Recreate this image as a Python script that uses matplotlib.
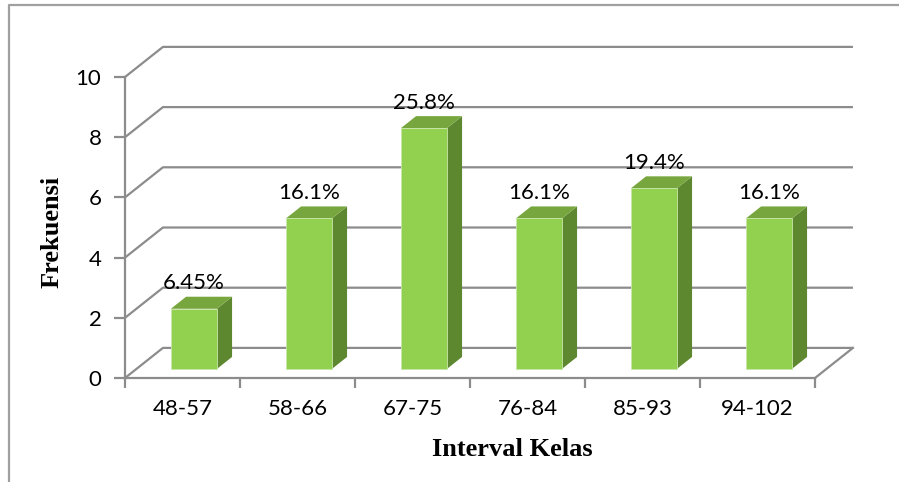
import matplotlib.pyplot as plt
from matplotlib.patches import Polygon
from matplotlib.lines import Line2D

# data
categories = ['48-57', '58-66', '67-75', '76-84', '85-93', '94-102']
freq = [2, 5, 8, 5, 6, 5]
pct_labels = ['6.45%', '16.1%', '25.8%', '16.1%', '19.4%', '16.1%']
yticks = [0, 2, 4, 6, 8, 10]

plt.rcParams['font.family'] = ['Lato', 'DejaVu Sans']

grid_c = '#8c8c8c'
front_c = '#92d050'
side_c = '#5e8830'
top_c = '#78a63e'

# pseudo 3d depth: full depth shifts (ddx categories, ddy values)
ddx, ddy = 0.33, 1.0

def shift(x, y, f):
    return x + ddx * f, y + ddy * f

W, H = 899, 482
fig = plt.figure(figsize=(W / 100, H / 100), dpi=100)
ax = fig.add_axes([125 / W, 104 / H, 690 / W, 301 / H])
ax.set_xlim(0, len(categories))
ax.set_ylim(0, 10)

# walls gridlines
for v in yticks:
    bx, by = shift(0, v, 1)
    ax.plot([0, bx, bx + len(categories)], [v, by, by], color=grid_c, lw=1.6,
            clip_on=False, zorder=1, solid_capstyle='butt')
# floor right edge
rx, ry = shift(len(categories), 0, 1)
ax.plot([len(categories), rx], [0, ry], color=grid_c, lw=1.6, clip_on=False, zorder=1)

# bars
f0, f1 = 0.3, 0.7
for i, (v, lab) in enumerate(zip(freq, pct_labels)):
    xl, xr = i + 0.3, i + 0.7
    x0l, y0 = shift(xl, 0, f0)
    x0r, _ = shift(xr, 0, f0)
    y0t = v + ddy * f0
    x1l, _ = shift(xl, 0, f1)
    x1r, _ = shift(xr, 0, f1)
    y1t = v + ddy * f1
    y1b = ddy * f1
    side = Polygon([(x0r, y0), (x1r, y1b), (x1r, y1t), (x0r, y0t)],
                   closed=True, fc=side_c, ec='none', clip_on=False, zorder=3)
    top = Polygon([(x0l, y0t), (x0r, y0t), (x1r, y1t), (x1l, y1t)],
                  closed=True, fc=top_c, ec='none', clip_on=False, zorder=3)
    front = Polygon([(x0l, y0), (x0r, y0), (x0r, y0t), (x0l, y0t)],
                    closed=True, fc=front_c, ec='#c8e6a8', lw=0.6, clip_on=False, zorder=4)
    for p in (side, top, front):
        ax.add_patch(p)
    ax.text((x0l + x0r) / 2, y1t + 0.45, lab, ha='center', va='center',
            fontsize=16, zorder=5)

for s in ['top', 'right']:
    ax.spines[s].set_visible(False)
for s in ['left', 'bottom']:
    ax.spines[s].set_color(grid_c)
    ax.spines[s].set_linewidth(1.6)
ax.set_facecolor('none')

ax.set_yticks(yticks)
ax.set_yticklabels([str(t) for t in yticks])
ax.tick_params(axis='y', direction='out', length=8, width=1.6, color=grid_c,
               labelsize=16, pad=9)
ax.set_xticks(range(len(categories) + 1))
ax.set_xticklabels([''] * (len(categories) + 1))
ax.set_xticks([i + 0.5 for i in range(len(categories))], minor=True)
ax.set_xticklabels(categories, minor=True)
ax.tick_params(axis='x', which='major', direction='out', length=7, width=1.6, color=grid_c)
ax.tick_params(axis='x', which='minor', length=0, labelsize=16, pad=15)

fig.text(52 / W, 1 - 232 / H, 'Frekuensi', rotation=90, ha='center', va='center',
         fontsize=19, fontweight='bold', family='Liberation Serif')
fig.text(512 / W, 1 - 449 / H, 'Interval Kelas', ha='center', va='center',
         fontsize=19, fontweight='bold', family='Liberation Serif')

# chart area border
fig.add_artist(Line2D([9 / W, 9 / W, 1], [0, 1 - 5 / H, 1 - 5 / H],
                      transform=fig.transFigure, color='#a0a0a0', lw=1.6))

fig.savefig('out.png', dpi=100)
